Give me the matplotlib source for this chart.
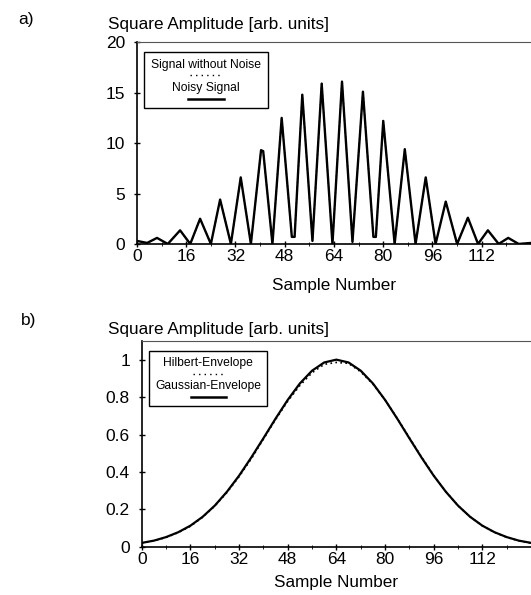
import matplotlib
matplotlib.use("Agg")
import matplotlib.pyplot as plt
from matplotlib.patches import Rectangle
from matplotlib.lines import Line2D

plt.rcParams['font.family'] = ['Liberation Sans', 'DejaVu Sans']

# panel a) - vertices of the noisy signal (alternating peaks / troughs read off the plot)
sig_x = [0, 3.3, 6.5, 10, 14, 17.3, 20.5, 24, 27, 30.5, 33.7, 37, 40.3, 41, 44,
         47, 50.3, 51.2, 53.7, 57, 60, 63.5, 66.6, 70, 73.4, 76.8, 77.6, 80, 83.7,
         87, 90.5, 93.8, 97, 100.3, 104, 107.5, 110.8, 114, 117.5, 120.6, 124, 128]
sig_y = [0.3, 0.1, 0.6, 0.0, 1.35, 0.0, 2.5, 0.0, 4.4, 0.0, 6.6, 0.0, 9.3, 9.2, 0.0,
         12.5, 0.7, 0.7, 14.8, 0.3, 15.9, 0.0, 16.1, 0.2, 15.1, 0.7, 0.7, 12.2, 0.0,
         9.4, 0.0, 6.6, 0.0, 4.2, 0.0, 2.6, 0.0, 1.35, 0.0, 0.6, 0.0, 0.1]

# panel b) - envelopes
env_x = [0, 4, 8, 12, 16, 20, 24, 28, 32, 36, 40, 44, 48, 52, 56, 60, 64,
         68, 72, 76, 80, 84, 88, 92, 96, 100, 104, 108, 112, 116, 120, 124, 128]
gauss_y = [0.021, 0.033, 0.052, 0.078, 0.113, 0.160, 0.220, 0.294, 0.380, 0.477,
           0.580, 0.685, 0.785, 0.873, 0.941, 0.985, 1.0, 0.985, 0.941, 0.873,
           0.785, 0.685, 0.580, 0.477, 0.380, 0.294, 0.220, 0.160, 0.113, 0.078,
           0.052, 0.033, 0.021]
hilb_y = [0.02, 0.032, 0.05, 0.076, 0.11, 0.158, 0.218, 0.29, 0.375, 0.47,
          0.575, 0.68, 0.778, 0.862, 0.93, 0.975, 0.985, 0.98, 0.935, 0.87,
          0.785, 0.687, 0.583, 0.48, 0.382, 0.295, 0.22, 0.16, 0.112, 0.077,
          0.051, 0.032, 0.02]

xticks = [0, 16, 32, 48, 64, 80, 96, 112]

fig = plt.figure(figsize=(5.31, 5.95), dpi=100)
ax1 = fig.add_axes([0.258, 0.590, 0.742, 0.339])
ax2 = fig.add_axes([0.267, 0.081, 0.733, 0.346])


def style(ax, lpad):
    ax.set_xlim(0, 128)
    ax.set_xticks(xticks)
    ax.set_xticks(range(8, 128, 16), minor=True)
    ax.tick_params(direction='inout', length=5, width=1, labelsize=12.5)
    ax.tick_params(axis='x', pad=1)
    ax.tick_params(axis='y', pad=6)
    ax.tick_params(which='minor', direction='inout', length=3)
    ax.spines['right'].set_visible(False)
    ax.spines['top'].set_linewidth(0.8)
    ax.spines['top'].set_color('#555555')
    for s in ['left', 'bottom']:
        ax.spines[s].set_linewidth(1.2)
    ax.set_xlabel('Sample Number', fontsize=12.3, labelpad=lpad)


def legend_box(ax, x0, y0, w, h, lab1, lab2):
    ax.add_patch(Rectangle((x0, y0), w, h, transform=ax.transAxes, fill=True,
                           facecolor='white', edgecolor='black', lw=1.0, zorder=5))
    cx = x0 + w / 2
    ax.text(cx, y0 + h * 0.78, lab1, transform=ax.transAxes, ha='center',
            va='center', fontsize=8.7, zorder=6)
    ax.add_line(Line2D([cx - 0.04, cx + 0.04], [y0 + h * 0.59] * 2, transform=ax.transAxes,
                       color='black', lw=1.0, ls=(0, (1, 3)), zorder=6))
    ax.text(cx, y0 + h * 0.36, lab2, transform=ax.transAxes, ha='center',
            va='center', fontsize=8.7, zorder=6)
    ax.add_line(Line2D([cx - 0.045, cx + 0.045], [y0 + h * 0.16] * 2, transform=ax.transAxes,
                       color='black', lw=1.8, zorder=6))


# panel a
ax1.plot(sig_x, sig_y, ls=(0, (1, 2)), color='black', lw=1.0)
ax1.plot(sig_x, sig_y, color='black', lw=1.7, solid_joinstyle='round')
ax1.set_ylim(0, 20)
ax1.set_yticks([0, 5, 10, 15, 20])
style(ax1, 10)
legend_box(ax1, 0.018, 0.675, 0.315, 0.275, 'Signal without Noise', 'Noisy Signal')

# panel b
ax2.plot(env_x, hilb_y, ls=(0, (1, 2)), color='black', lw=1.2)
ax2.plot(env_x, gauss_y, color='black', lw=1.6)
ax2.set_ylim(0, 1.1)
ax2.set_yticks([0, 0.2, 0.4, 0.6, 0.8, 1.0])
ax2.set_yticklabels(['0', '0.2', '0.4', '0.6', '0.8', '1'])
style(ax2, 6)
legend_box(ax2, 0.018, 0.685, 0.305, 0.265, 'Hilbert-Envelope', 'Gaussian-Envelope')

fig.text(0.203, 0.958, 'Square Amplitude [arb. units]', fontsize=12.3, va='center')
fig.text(0.203, 0.447, 'Square Amplitude [arb. units]', fontsize=12.3, va='center')
fig.text(0.035, 0.968, 'a)', fontsize=12.5, va='center')
fig.text(0.04, 0.462, 'b)', fontsize=12.5, va='center')

fig.savefig('out.png', dpi=100)
